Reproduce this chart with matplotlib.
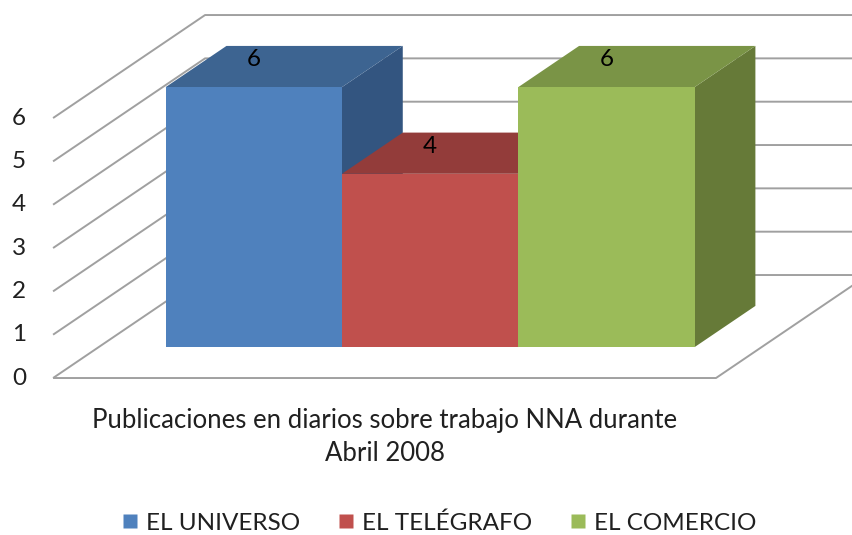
import matplotlib.pyplot as plt
from matplotlib.patches import Polygon
from matplotlib.lines import Line2D

# data
series = ["EL UNIVERSO", "EL TELÉGRAFO", "EL COMERCIO"]
values = [6, 4, 6]
category = "Publicaciones en diarios sobre trabajo NNA durante\nAbril 2008"
y_ticks = [0, 1, 2, 3, 4, 5, 6]

front_colors = ["#4F81BD", "#C0504D", "#9BBB59"]
top_colors = ["#3D6491", "#933C3A", "#7A9446"]
side_colors = ["#335580", "#7E3230", "#667A38"]

plt.rcParams['font.family'] = ['Lato', 'DejaVu Sans']
FS = 17.5

fig = plt.figure(figsize=(8.53, 5.35), dpi=100)
ax = fig.add_axes([0, 0, 1, 1])
ax.set_xlim(-0.681, 4.157)
ax.set_ylim(-3.623, 8.724)
ax.axis('off')

# oblique "3d" projection: depth d in [0, 1] shifts right and up
gap = 0.38
DX, DY = 0.862, 2.377
d0, d1 = 0.3, 0.7
x0, x1 = -gap, len(values) + gap


def proj(x, y, d):
    return (x + d * DX, y + d * DY)


grid_kw = dict(color='#A0A0A0', lw=1.4, zorder=1, solid_capstyle='butt')
for t in y_ticks:
    pts = [proj(x0, t, 0), proj(x0, t, 1), proj(x1, t, 1)]
    ax.plot(*zip(*pts), **grid_kw)
    ax.annotate(str(t), proj(x0, t, 0), xytext=(-24.5, 0), textcoords='offset points',
                ha='center', va='center', fontsize=FS, color='#202020')

# floor edges
floor = [proj(x1, 0, 1), proj(x1, 0, 0), proj(x0, 0, 0)]
ax.plot(*zip(*floor), **grid_kw)

# bars, left to right so the next bar hides the side of the previous one
for i, v in enumerate(values):
    xl, xr = i, i + 1
    front = [proj(xl, 0, d0), proj(xr, 0, d0), proj(xr, v, d0), proj(xl, v, d0)]
    top = [proj(xl, v, d0), proj(xr, v, d0), proj(xr, v, d1), proj(xl, v, d1)]
    side = [proj(xr, 0, d0), proj(xr, 0, d1), proj(xr, v, d1), proj(xr, v, d0)]
    z = 2 + i
    ax.add_patch(Polygon(side, closed=True, facecolor=side_colors[i], edgecolor='none', zorder=z))
    ax.add_patch(Polygon(top, closed=True, facecolor=top_colors[i], edgecolor='none', zorder=z))
    ax.add_patch(Polygon(front, closed=True, facecolor=front_colors[i], edgecolor='none', zorder=z))
    ax.annotate(str(v), proj(i + 0.5, v, d0), xytext=(0, 20), textcoords='offset points',
                ha='center', va='center', fontsize=FS, color='black', zorder=10)

ax.annotate(category, ((x0 + x1) / 2, 0), xytext=(0, -42.5), textcoords='offset points',
            ha='center', va='center', fontsize=18.5, linespacing=1.38, color='#202020')

handles = [Line2D([0], [0], marker='s', linestyle='none', markersize=10.5,
                  markerfacecolor=c, markeredgecolor='none') for c in front_colors]
fig.legend(handles, series, loc='center', bbox_to_anchor=(0.515, 0.022), ncol=3,
           frameon=False, fontsize=FS, handlelength=0.6, handletextpad=0.35,
           columnspacing=1.6, labelcolor='#202020')

fig.savefig('out.png', dpi=100)
